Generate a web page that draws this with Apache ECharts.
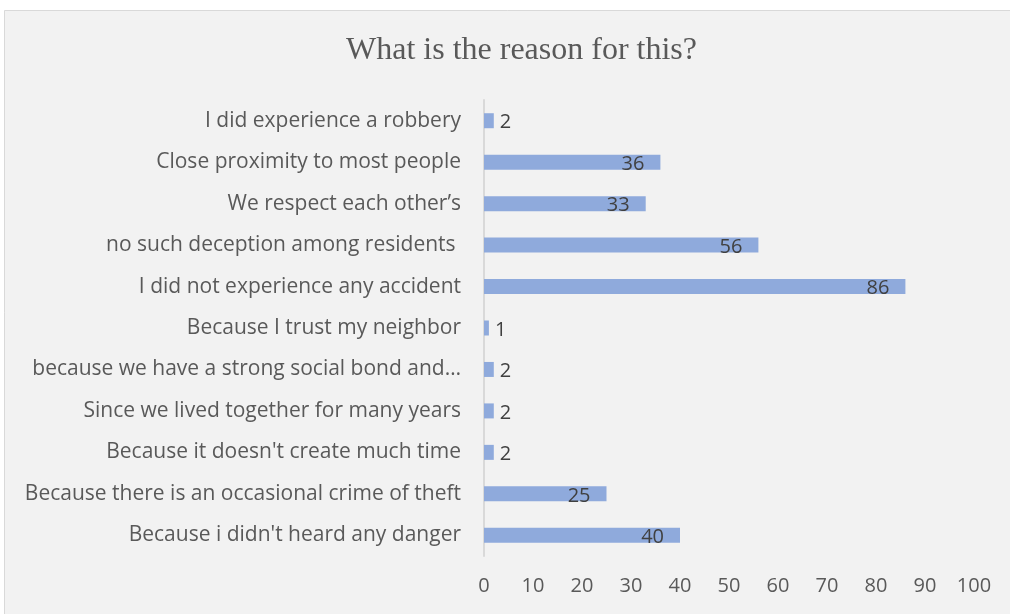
<!DOCTYPE html>
<html>
<head>
    <meta charset="utf-8">
    <title>What is the reason for this?</title>
    <script src="https://cdn.jsdelivr.net/npm/echarts@6/dist/echarts.min.js"></script>
    <style>
        html, body { margin: 0; padding: 0; background: #ffffff; }
        #main { width: 1010px; height: 614px; }
    </style>
</head>
<body>
<div id="main"></div>
<script type="text/javascript">
    // categories, top to bottom as in the picture
    var reasons = [
        'I did experience a robbery',
        'Close proximity to most people',
        'We respect each other\u2019s',
        'no such deception among residents ',
        'I did not experience any accident',
        'Because I trust my neighbor',
        'because we have a strong social bond and\u2026',
        'Since we lived together for many years',
        "Because it doesn't create much time",
        'Because there is an occasional crime of theft',
        "Because i didn't heard any danger"
    ];
    var counts = [2, 36, 33, 56, 86, 1, 2, 2, 2, 25, 40];
    var xTicks = [0, 10, 20, 30, 40, 50, 60, 70, 80, 90, 100];

    var labelFont = 'Open Sans, Liberation Sans, sans-serif';

    // small bars get their number outside, the rest inside the end
    var barData = counts.map(function (v) {
        var item = { value: v };
        if (v < 10) {
            item.label = { position: 'right', distance: 6, offset: [0, 2] };
        }
        return item;
    });

    var myChart = echarts.init(document.getElementById('main'));
    var option = {
        backgroundColor: '#ffffff',
        animation: false,
        graphic: [{
            type: 'rect',
            z: -10,
            shape: { x: 4.5, y: 10.5, width: 1020, height: 620 },
            style: { fill: '#f2f2f2', stroke: '#d9d9d9', lineWidth: 1 }
        }],
        title: {
            text: 'What is the reason for this?',
            left: 341,
            top: 30,
            textStyle: {
                fontFamily: 'Liberation Serif, Times New Roman, serif',
                fontSize: 32,
                fontWeight: 'normal',
                color: '#595959'
            }
        },
        grid: { left: 484, right: 36, top: 100, bottom: 58 },
        xAxis: {
            type: 'value',
            min: 0,
            max: 100,
            interval: 10,
            axisLine: { show: false },
            axisTick: { show: false },
            splitLine: { show: false },
            axisLabel: {
                margin: 20,
                fontFamily: labelFont,
                fontSize: 20,
                color: '#595959',
                formatter: function (v) { return xTicks.indexOf(v) >= 0 ? String(v) : ''; }
            }
        },
        yAxis: {
            type: 'category',
            inverse: true,
            data: reasons,
            axisLine: { show: true, lineStyle: { color: '#d9d9d9', width: 2 } },
            axisTick: { show: false },
            axisLabel: {
                margin: 23,
                fontFamily: labelFont,
                fontSize: 21,
                color: '#595959'
            }
        },
        series: [{
            type: 'bar',
            data: barData,
            barWidth: 15,
            itemStyle: { color: '#8faadc' },
            label: {
                show: true,
                position: 'insideRight',
                distance: 16,
                offset: [0, 2],
                fontFamily: labelFont,
                fontSize: 20,
                color: '#404040'
            }
        }]
    };
    myChart.setOption(option);
</script>
</body>
</html>
